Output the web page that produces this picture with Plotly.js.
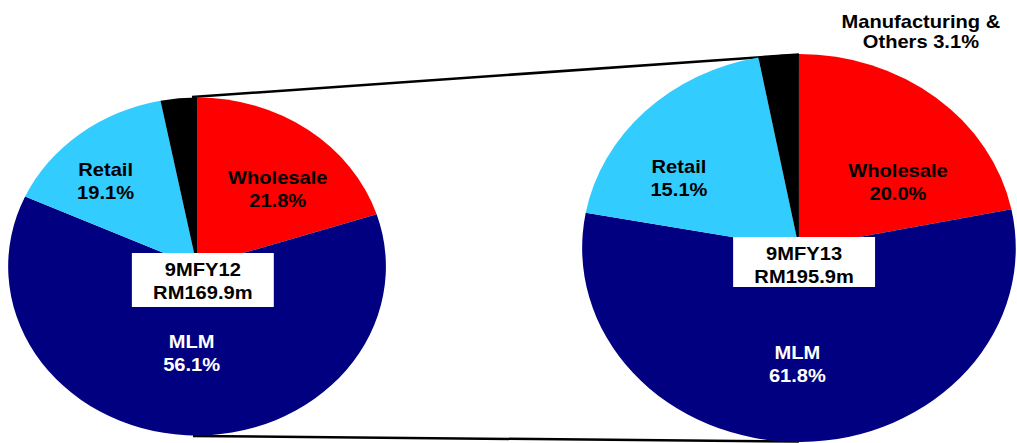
<!DOCTYPE html>
<html>
<head>
<meta charset="utf-8">
<script src="https://cdn.plot.ly/plotly-3.0.1.min.js"></script>
<style>
  html, body { margin: 0; padding: 0; background: #ffffff; overflow: hidden; }
  #chart { width: 910px; height: 443px; transform: scaleX(1.11758); transform-origin: 0 0; }
</style>
</head>
<body>
<div id="chart"></div>
<script>
// ---- data ----
var segments = ["Wholesale", "MLM", "Retail", "Manufacturing & Others"];
var colors = ["#FF0000", "#000080", "#33CCFF", "#000000"];
var periods = ["9MFY12", "9MFY13"];
var totals = [169.9, 195.9];            // RM million
var values9MFY12 = [21.8, 56.1, 19.1, 3.0];
var values9MFY13 = [20.0, 61.8, 15.1, 3.1];
// In the source picture the slice geometry of each pie follows the other
// period's shares (left pie drawn with 9MFY13 shares, right with 9MFY12),
// while the text labels carry each period's own numbers. Reproduced as seen.
var leftPieSlices = values9MFY13;
var rightPieSlices = values9MFY12;

// ---- layout helpers (unstretched pixel space 910 x 443) ----
var W = 910, H = 443;
function px(x) { return x / W; }
function py(y) { return (H - y) / H; }

var font = { family: "Liberation Sans, Arial, sans-serif", size: 18, color: "#000000" };

function pieTrace(vals, name, dom) {
  return {
    type: "pie",
    name: name,
    labels: segments,
    values: vals,
    sort: false,
    direction: "clockwise",
    rotation: 0,
    marker: { colors: colors, line: { width: 0 } },
    textinfo: "none",
    hoverinfo: "label+percent",
    showlegend: false,
    domain: dom
  };
}

var data = [
  pieTrace(leftPieSlices, periods[0], { x: [px(7.3), px(345.3)], y: [py(435.5), py(97.5)] }),
  pieTrace(rightPieSlices, periods[1], { x: [px(520.9), px(908.9)], y: [py(442), py(54)] })
];

function lbl(text, x, y, color) {
  return {
    xref: "paper", yref: "paper", x: px(x), y: py(y),
    xanchor: "center", yanchor: "middle", showarrow: false,
    text: "<b>" + text + "</b>",
    font: { family: font.family, size: font.size, color: color || "#000000" }
  };
}
function segText(vals, i) { return segments[i] + "<br>" + vals[i].toFixed(1) + "%"; }

var annotations = [
  lbl(segText(values9MFY12, 0), 248.3, 190),
  lbl(segText(values9MFY12, 2), 94, 181.5),
  lbl(segText(values9MFY12, 1), 171.8, 353.5, "#FFFFFF"),
  lbl(periods[0] + "<br>RM" + totals[0].toFixed(1) + "m", 181.7, 281.5),
  lbl(segText(values9MFY13, 0), 803.5, 182.5),
  lbl(segText(values9MFY13, 2), 607.5, 178),
  lbl(segText(values9MFY13, 1), 713, 364.5, "#FFFFFF"),
  lbl(periods[1] + "<br>RM" + totals[1].toFixed(1) + "m", 719.4, 265.5),
  lbl("Manufacturing &", 823.7, 22),
  lbl("Others " + values9MFY13[3].toFixed(1) + "%", 823.7, 42)
];

var shapes = [
  // connector lines (pie-of-pie style)
  { type: "line", xref: "paper", yref: "paper", layer: "below",
    x0: px(171.8), y0: py(97), x1: px(714.9), y1: py(54.5),
    line: { color: "#000000", width: 2.5 } },
  { type: "line", xref: "paper", yref: "paper", layer: "below",
    x0: px(172.7), y0: py(436), x1: px(714.9), y1: py(441.5),
    line: { color: "#000000", width: 2.5 } },
  // white label boxes
  { type: "rect", xref: "paper", yref: "paper", layer: "above",
    x0: px(118), x1: px(245), y0: py(307), y1: py(253),
    fillcolor: "#FFFFFF", line: { width: 0 } },
  { type: "rect", xref: "paper", yref: "paper", layer: "above",
    x0: px(656), x1: px(783), y0: py(287), y1: py(237),
    fillcolor: "#FFFFFF", line: { width: 0 } }
];

var layout = {
  width: W, height: H,
  margin: { l: 0, r: 0, t: 0, b: 0, pad: 0 },
  paper_bgcolor: "#FFFFFF",
  plot_bgcolor: "#FFFFFF",
  font: font,
  showlegend: false,
  annotations: annotations,
  shapes: shapes
};

Plotly.newPlot("chart", data, layout, { staticPlot: true, displayModeBar: false });
</script>
</body>
</html>
